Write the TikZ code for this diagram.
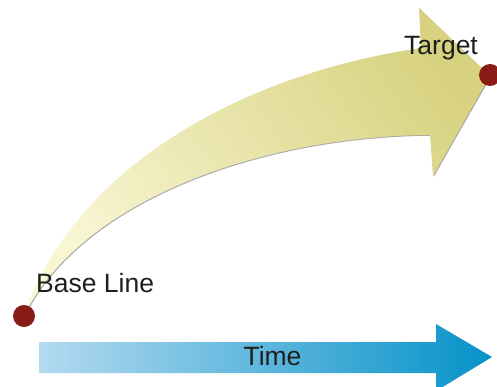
\documentclass[tikz,border=0pt]{standalone}
\usepackage{fontspec}
\setmainfont{Liberation Sans}
\definecolor{yLight}{RGB}{249,246,212}
\definecolor{yDark}{RGB}{216,210,128}
\definecolor{bLight}{RGB}{180,218,240}
\definecolor{bDark}{RGB}{5,146,201}
\definecolor{dotred}{RGB}{138,28,24}
\definecolor{txt}{RGB}{30,30,30}
\begin{document}
\begin{tikzpicture}[x=1pt,y=1pt,
  dotstyle/.style={circle,fill=dotred,inner sep=0pt,minimum size=22pt},
  lbl/.style={text=txt,font=\fontsize{26.5}{30}\selectfont,inner sep=0pt}]
\clip (0,0) rectangle (497,386);
\fill[white] (0,0) rectangle (497,386);
% time arrow
\shade[left color=bLight,right color=bDark]
  (39,44) -- (436,44) -- (436,62) -- (492,29) -- (436,-5) -- (436,13) -- (39,13) -- cycle;
% curved arrow shadow
\fill[gray!70,shift={(0.8,-0.8)}]
  (24,70) .. controls (70,210) and (230,310) .. (421,338) -- (419,378) -- (490,310)
  -- (433,210) -- (430,251) .. controls (260,250) and (80,185) .. (24,70) -- cycle;
\shade[left color=yLight,right color=yDark,shading angle=125]
  (24,70) .. controls (70,210) and (230,310) .. (421,338) -- (419,378) -- (490,310)
  -- (433,210) -- (430,251) .. controls (260,250) and (80,185) .. (24,70) -- cycle;
\node[dotstyle] (base) at (24,70) {};
\node[dotstyle] (target) at (490,311) {};
\node[lbl,anchor=base west] (baselbl) at (36,94) {Base Line};
\node[lbl,anchor=base] (targetlbl) at (441,331) {Target};
\node[lbl,anchor=base] (timelbl) at (272.5,21) {Time};
\end{tikzpicture}
\end{document}
